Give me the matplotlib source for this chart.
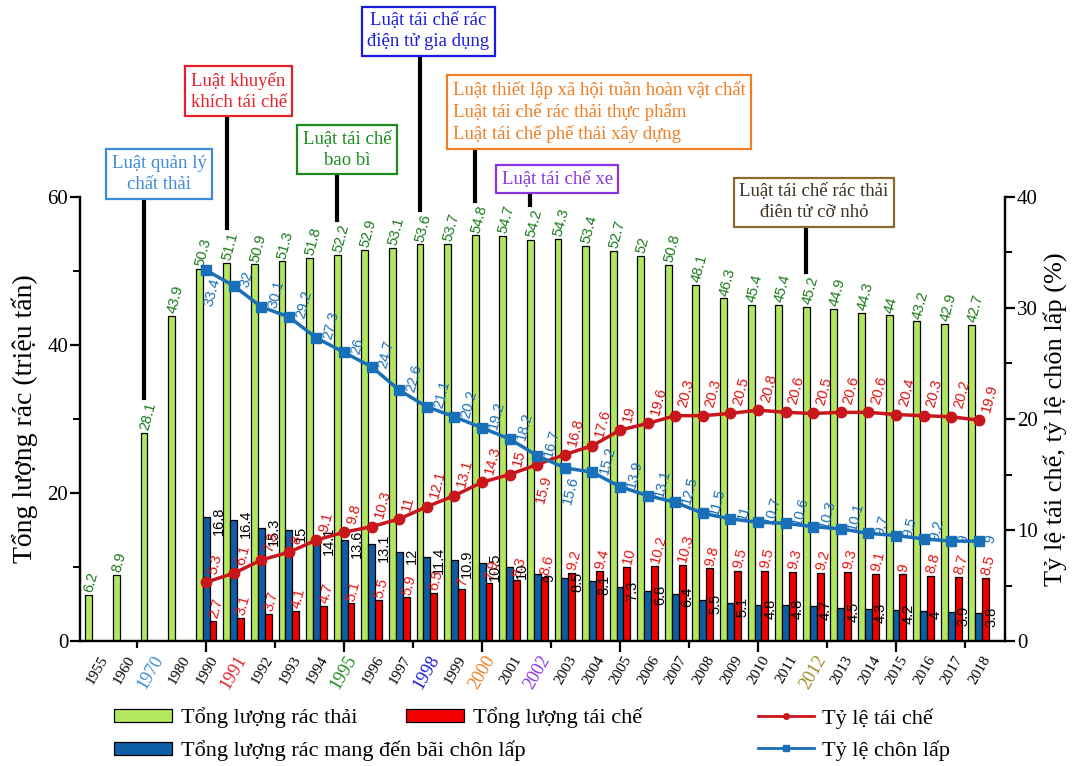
import numpy as np
import matplotlib.pyplot as plt
from matplotlib import transforms
from matplotlib.patches import Patch
from matplotlib.lines import Line2D

SERIF = ['Liberation Serif', 'DejaVu Serif']
SANS = ['Liberation Sans', 'DejaVu Sans']

# %% Data
years = ['1955', '1960', '1970', '1980'] + [str(y) for y in range(1990, 2019)]

# triệu tấn
total_waste = [6.2, 8.9, 28.1, 43.9, 50.3, 51.1, 50.9, 51.3, 51.8, 52.2, 52.9,
               53.1, 53.6, 53.7, 54.8, 54.7, 54.2, 54.3, 53.4, 52.7, 52, 50.8,
               48.1, 46.3, 45.4, 45.4, 45.2, 44.9, 44.3, 44, 43.2, 42.9, 42.7]
# from 1990 onward
landfill_amt = [16.8, 16.4, 15.3, 15, 14.1, 13.6, 13.1, 12, 11.4, 10.9, 10.5,
                10, 9, 8.5, 8.1, 7.3, 6.8, 6.4, 5.5, 5.1, 4.8, 4.8, 4.7, 4.5,
                4.3, 4.2, 4, 3.9, 3.8]
recycled_amt = [2.7, 3.1, 3.7, 4.1, 4.7, 5.1, 5.5, 5.9, 6.5, 7, 7.9, 8.3, 8.6,
                9.2, 9.4, 10, 10.2, 10.3, 9.8, 9.5, 9.5, 9.3, 9.2, 9.3, 9.1, 9,
                8.8, 8.7, 8.5]
# %
recycle_rate = [5.3, 6.1, 7.3, 8, 9.1, 9.8, 10.3, 11, 12.1, 13.1, 14.3, 15,
                15.9, 16.8, 17.6, 19, 19.6, 20.3, 20.3, 20.5, 20.8, 20.6, 20.5,
                20.6, 20.6, 20.4, 20.3, 20.2, 19.9]
landfill_rate = [33.4, 32, 30.1, 29.2, 27.3, 26, 24.7, 22.6, 21.1, 20.2, 19.2,
                 18.2, 16.7, 15.6, 15.2, 13.9, 13.1, 12.5, 11.5, 11, 10.7, 10.6,
                 10.3, 10.1, 9.7, 9.5, 9.2, 9, 9]

# law year, box text, colour, box centre (x in category units, y in left-axis units)
laws = [
    ('1970', 'Luật quản lý\nchất thải', '#3d8bd9', 2.30, 63.1),
    ('1991', 'Luật khuyến\nkhích tái chế', '#e8202a', 5.18, 74.3),
    ('1995', 'Luật tái chế\nbao bì', '#1c8a1c', 9.11, 66.4),
    ('1998', 'Luật tái chế rác\nđiện tử gia dụng', '#1a1ae0', 12.06, 82.4),
    ('2000', 'Luật thiết lập xã hội tuần hoàn vật chất\n'
             'Luật tái chế rác thải thực phẩm\n'
             'Luật tái chế phế thải xây dựng', '#f07d22', 18.24, 71.5),
    ('2002', 'Luật tái chế xe', '#8a35e0', 16.72, 62.4),
    ('2012', 'Luật tái chế rác thải\nđiên tử cỡ nhỏ', '#8b6b2a', 26.03, 59.3),
]
year_colors = {'1970': '#3d8bd9', '1991': '#e8202a', '1995': '#1c8a1c',
               '1998': '#1a1ae0', '2000': '#f07d22', '2002': '#8a35e0',
               '2012': '#9a8a20'}

GREEN = '#b3e85e'
BLUE = '#0d5ea6'
RED = '#f20000'
RED_LINE = '#c8161d'
BLUE_LINE = '#1a70b8'
GREEN_TXT = '#1b7a1b'

# %% Figure
fig = plt.figure(figsize=(10.73, 7.66), dpi=100)
ax = fig.add_axes([80 / 1073, 1 - 641 / 766, 925 / 1073, 444 / 766])
ax2 = ax.twinx()

x = np.arange(len(years))
xr = x[4:]
w = 0.25

ax.bar(x - w, total_waste, w, color=GREEN, edgecolor='black', lw=0.9, zorder=2)
ax.bar(xr, landfill_amt, w, color=BLUE, edgecolor='black', lw=0.9, zorder=2)
ax.bar(xr + w, recycled_amt, w, color=RED, edgecolor='black', lw=0.9, zorder=2)

ax2.plot(xr, recycle_rate, color=RED_LINE, lw=2.5, marker='o', ms=7.5, zorder=4)
ax2.plot(xr, landfill_rate, color=BLUE_LINE, lw=2.5, marker='s', ms=7, zorder=4)

ax.set_xlim(-0.57, 32.95)
ax.set_ylim(0, 60)
ax2.set_ylim(0, 40)

# axes styling
for a in (ax, ax2):
    a.spines['top'].set_visible(False)
    for s in ('left', 'right', 'bottom'):
        a.spines[s].set_linewidth(1.6)
ax.set_yticks([0, 20, 40, 60])
ax.set_yticks([10, 30, 50], minor=True)
ax2.set_yticks([0, 10, 20, 30, 40])
ax2.set_yticks([5, 15, 25, 35], minor=True)
for a in (ax, ax2):
    a.tick_params(axis='y', which='major', length=7, width=1.6, labelsize=15,
                  pad=1.5)
    a.tick_params(axis='y', which='minor', length=5, width=1.4)
    for lab in a.get_yticklabels():
        lab.set_family(SERIF)

ax.set_xticks(np.arange(4, 32, 5))
ax.set_xticks(np.arange(1.5, 33, 5), minor=True)
ax.tick_params(axis='x', which='major', length=8, width=1.6, labelbottom=False)
ax.tick_params(axis='x', which='minor', length=5, width=1.6)

trans = transforms.blended_transform_factory(ax.transData, ax.transAxes)
for xi, yr in zip(x, years):
    hl = yr in year_colors
    ax.text(xi + 0.32, -0.035, yr, transform=trans, rotation=60,
            rotation_mode='anchor', ha='right', va='center',
            fontsize=13 if hl else 11, family=SERIF,
            color=year_colors.get(yr, 'black'))

ax.set_ylabel('Tổng lượng rác (triệu tấn)', fontsize=20, family=SERIF)
ax.yaxis.set_label_coords(-0.045, 0.5)
ax2.set_ylabel('Tỷ lệ tái chế, tỷ lệ chôn lấp (%)', fontsize=19, family=SERIF)
ax2.yaxis.set_label_coords(1.041, 0.5)

# %% Value labels
lab_kw = dict(textcoords='offset points', rotation_mode='anchor',
              fontsize=10.5, family=SANS)
for xi, v in zip(x, total_waste):
    ax.annotate(f'{v:g}', (xi - w, v), xytext=(0, 2), rotation=75,
                ha='left', va='center', color=GREEN_TXT, **lab_kw)
for xi, v in zip(xr, recycled_amt):
    ax.annotate(f'{v:g}', (xi + w, v), xytext=(0, 2), rotation=75,
                ha='left', va='center', color='#ee1111', **lab_kw)
for xi, v in zip(xr, landfill_amt):
    ax.annotate(f'{v:g}', (xi + 0.45, v - 0.5), xytext=(0, 0), rotation=90,
                ha='center', va='center', color='black', **lab_kw)

for k, (xi, v) in enumerate(zip(xr, recycle_rate)):
    if years[k + 4] == '2002':
        ax2.annotate(f'{v:g}', (xi, v), xytext=(7, -8), rotation=75,
                     ha='right', va='center', color='#dd1111', **lab_kw)
    else:
        ax2.annotate(f'{v:g}', (xi, v), xytext=(5, 6), rotation=75,
                     ha='left', va='center', color='#dd1111', **lab_kw)
for k, (xi, v) in enumerate(zip(xr, landfill_rate)):
    if years[k + 4] in ('1990', '2003'):
        ax2.annotate(f'{v:g}', (xi, v), xytext=(7, -6), rotation=75,
                     ha='right', va='center', color=BLUE_LINE, **lab_kw)
    else:
        ax2.annotate(f'{v:g}', (xi, v), xytext=(8, -1), rotation=75,
                     ha='left', va='center', color=BLUE_LINE, **lab_kw)

# %% Law call-outs
for yr, txt, col, bx, by in laws:
    idx = years.index(yr)
    lx = idx - w
    top = total_waste[idx] + 4.7
    ax.plot([lx, lx], [top, by], color='black', lw=3, clip_on=False, zorder=5)
    multi = 'left' if txt.count('\n') > 1 else 'center'
    tcol = '#3a3020' if yr == '2012' else col
    ax.text(bx, by, txt, ha='center', va='center', multialignment=multi,
            fontsize=13.5, family=SERIF, color=tcol, linespacing=1.3,
            zorder=6, clip_on=False,
            bbox=dict(boxstyle='square,pad=0.3', fc='white', ec=col, lw=1.6))

# %% Legends
prop = {'family': SERIF, 'size': 16}
leg_kw = dict(loc='center left', frameon=False, prop=prop, borderpad=0,
              borderaxespad=0, handletextpad=0.4)


def bar_handle(c):
    return Patch(facecolor=c, edgecolor='black', lw=0.9)


fig.legend([bar_handle(GREEN)], ['Tổng lượng rác thải'],
           bbox_to_anchor=(114 / 1073, 1 - 718 / 766),
           handlelength=2.6, handleheight=0.5, **leg_kw)
fig.legend([bar_handle(RED)], ['Tổng lượng tái chế'],
           bbox_to_anchor=(406 / 1073, 1 - 718 / 766),
           handlelength=2.6, handleheight=0.5, **leg_kw)
fig.legend([bar_handle(BLUE)], ['Tổng lượng rác mang đến bãi chôn lấp'],
           bbox_to_anchor=(114 / 1073, 1 - 751 / 766),
           handlelength=2.6, handleheight=0.5, **leg_kw)
fig.legend([Line2D([], [], color=RED_LINE, lw=2, marker='o', ms=4),
            Line2D([], [], color=BLUE_LINE, lw=2, marker='s', ms=4)],
           ['Tỷ lệ tái chế', 'Tỷ lệ chôn lấp'],
           bbox_to_anchor=(758 / 1073, 1 - 734.5 / 766),
           handlelength=2.5, labelspacing=0.5, **leg_kw)

fig.savefig('out.png', dpi=100)
